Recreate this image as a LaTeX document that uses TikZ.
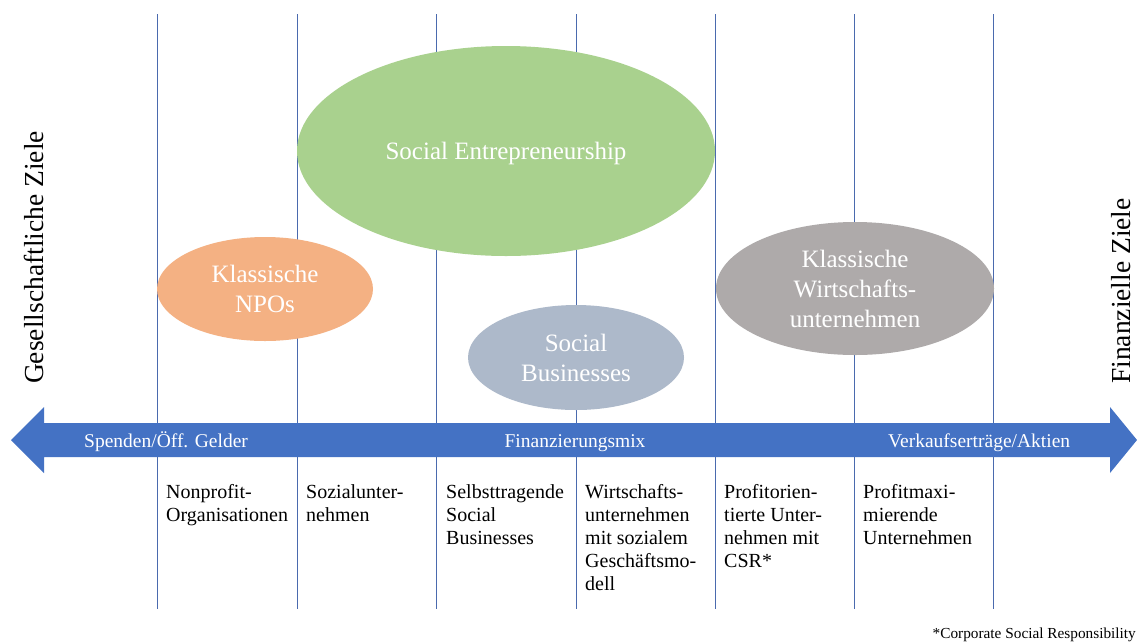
\documentclass[tikz,border=0pt]{standalone}
\usepackage{fontspec}
\setmainfont{Liberation Serif}
\usetikzlibrary{shapes.geometric}
\definecolor{lineblue}{HTML}{4A6AAE}
\definecolor{arrowblue}{HTML}{4472C4}
\definecolor{segreen}{HTML}{A9D18E}
\definecolor{npoorange}{HTML}{F4B183}
\definecolor{sbblue}{HTML}{ADB9CA}
\definecolor{kwgray}{HTML}{AEAAAA}
\begin{document}
\begin{tikzpicture}[x=1pt,y=-1pt,
  gridline/.style={draw=lineblue, line width=0.8pt},
  blob/.style={ellipse, draw=none, inner sep=0pt, text=white, align=center,
    font=\fontsize{25}{30}\selectfont},
  arrowlabel/.style={text=white, inner sep=0pt, font=\fontsize{19.5}{23}\selectfont},
  coltext/.style={anchor=north west, inner sep=0pt, align=left,
    font=\fontsize{20}{23}\selectfont},
  sidelabel/.style={rotate=90, anchor=base, inner sep=0pt,
    font=\fontsize{27.5}{30}\selectfont}]
\useasboundingbox (0,0) rectangle (1137,641);
\fill[white] (0,0) rectangle (1137,641);
% grid lines
\foreach \x in {157,297,436,576,715,854,993}
  \draw[gridline] (\x,14) -- (\x,609);
% double arrow
\fill[arrowblue] (11,440) -- (44,407) -- (44,423) -- (1110,423) -- (1110,407)
  -- (1137,440) -- (1110,473) -- (1110,457) -- (44,457) -- (44,473) -- cycle;
\node[arrowlabel, anchor=base west] (spenden) at (84,447) {Spenden/Öff. Gelder};
\node[arrowlabel, anchor=base] (mix) at (575,447) {Finanzierungsmix};
\node[arrowlabel, anchor=base west] (verkauf) at (888,447) {Verkaufserträge/Aktien};
% ellipses
\node[blob, fill=segreen, minimum width=418pt, minimum height=210pt, text depth=0pt] (se) at (506,151) {Social Entrepreneurship};
\node[blob, fill=npoorange, minimum width=216pt, minimum height=104pt] (npo) at (265,289) {Klassische\\NPOs};
\node[blob, fill=sbblue, minimum width=216pt, minimum height=105pt] (sb) at (576,357.5) {Social\\Businesses};
\node[blob, fill=kwgray, minimum width=278pt, minimum height=133pt] (kw) at (855,288.5) {Klassische\\Wirtschafts-\\unternehmen};
% column texts
\node[coltext] (c1) at (166,484) {Nonprofit-\\Organisationen};
\node[coltext] (c2) at (306,484) {Sozialunter-\\nehmen};
\node[coltext] (c3) at (446,484) {Selbsttragende\\Social\\Businesses};
\node[coltext] (c4) at (585,484) {Wirtschafts-\\unternehmen\\mit sozialem\\Geschäftsmo-\\dell};
\node[coltext] (c5) at (724,484) {Profitorien-\\tierte Unter-\\nehmen mit\\CSR*};
\node[coltext] (c6) at (863,484) {Profitmaxi-\\mierende\\Unternehmen};
% side labels
\node[sidelabel] (gz) at (43,257.5) {Gesellschaftliche Ziele};
\node[sidelabel] (fz) at (1130,291) {Finanzielle Ziele};
% footnote
\node[anchor=base east, inner sep=0pt, font=\fontsize{15.3}{18}\selectfont] (fn) at (1136,638) {*Corporate Social Responsibility};
\end{tikzpicture}
\end{document}
